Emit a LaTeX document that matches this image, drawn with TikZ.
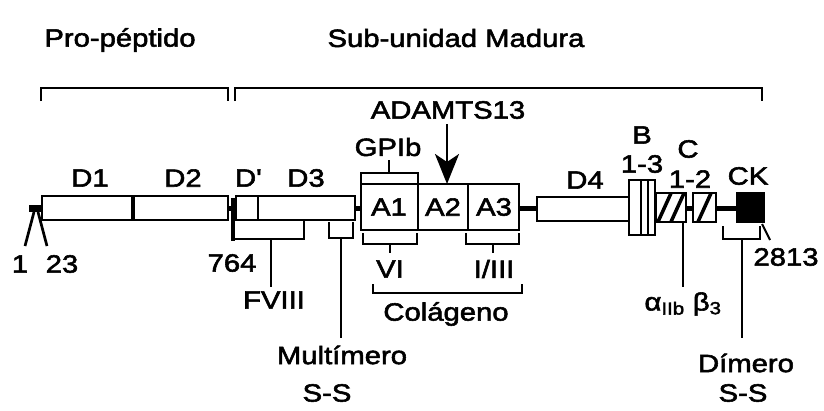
\documentclass[tikz,border=0pt]{standalone}
\usepackage{fontspec}
\setmainfont{Liberation Sans}[FakeStretch=1.17, FakeBold=2.2]
\usetikzlibrary{arrows.meta}
\begin{document}
\begin{tikzpicture}[x=1pt,y=-1pt,
  ln/.style={line width=2.7pt},
  box/.style={line width=2.7pt},
  bar/.style={line width=5pt},
  lbl/.style={font=\fontsize{25}{28}\selectfont, inner sep=0pt}]
\useasboundingbox (0,0) rectangle (824,410);
% top labels and brackets
\node[lbl] (pro) at (120,40) {Pro-péptido};
\node[lbl] (sub) at (456,38) {Sub-unidad Madura};
\draw[ln] (41,101) -- (41,88) -- (228,88) -- (228,101);
\draw[ln] (235,101) -- (235,88) -- (762,88) -- (762,101);
% signal peptide
\coordinate (s0) at (29,208); \coordinate (s1) at (42,208);
\draw[line width=7pt] (s0) -- (s1);
\coordinate (l0) at (34,212); \coordinate (l1) at (25,246);
\coordinate (r0) at (38,212); \coordinate (r1) at (47,246);
\draw[ln] (l0) -- (l1);
\draw[ln] (r0) -- (r1);
\node[lbl] (n1) at (20,264) {1};
\node[lbl] (n23) at (62,264) {23};
% D1 D2
\draw[box] (42,196) rectangle (228,220);
\draw[line width=4pt] (133,196) -- (133,220);
\node[lbl] (d1) at (90,178) {D1};
\node[lbl] (d2) at (183,178) {D2};
\draw[bar] (228,208) -- (236,208);
% 764
\draw[line width=4pt] (233,198) -- (233,241);
\node[lbl] (n764) at (232,263) {764};
% D' D3
\draw[box] (236,196) rectangle (355,220);
\draw[ln] (258,196) -- (258,220);
\node[lbl] (dp) at (248,178) {D\textquotesingle};
\node[lbl] (d3) at (306,178) {D3};
% FVIII
\draw[ln] (233,239) -- (304,239) -- (304,220);
\coordinate (fv0) at (271,239); \coordinate (fv1) at (271,287);
\draw[ln] (fv0) -- (fv1);
\node[lbl] (fviii) at (274,300) {FVIII};
% Multimero
\draw[ln] (329,222) -- (329,238) -- (353,238) -- (353,222);
\coordinate (mu0) at (341,238); \coordinate (mu1) at (341,338);
\draw[ln] (mu0) -- (mu1);
\node[lbl] (mult) at (342,355) {Multímero};
\node[lbl] (ss1) at (327,393) {S-S};
% A domains
\draw[bar] (355,208) -- (361,208);
\draw[box] (361,184) rectangle (519,230);
\draw[box] (418,184) -- (418,230);
\draw[box] (468,184) -- (468,230);
\node[lbl] (a1) at (389,207) {A1};
\node[lbl] (a2) at (443,207) {A2};
\node[lbl] (a3) at (494,207) {A3};
% GPIb
\draw[ln] (361,184) -- (361,173) -- (418,173) -- (418,184);
\draw[ln] (389,173) -- (389,160);
\node[lbl] (gp) at (388,147) {GPIb};
% ADAMTS13
\node[lbl] (adam) at (448,110) {ADAMTS13};
\coordinate (ar0) at (447,124); \coordinate (ar1) at (447,184);
\draw[ln, -{Stealth[length=30pt,width=24pt,inset=8pt]}] (ar0) -- (ar1);
% VI, I/III, collagen
\draw[ln] (363,233) -- (363,244) -- (417,244) -- (417,233);
\draw[ln] (390,244) -- (390,253);
\draw[ln] (466,233) -- (466,244) -- (519,244) -- (519,233);
\draw[ln] (493,244) -- (493,253);
\node[lbl] (vi) at (390,269) {VI};
\node[lbl] (i3) at (494,269) {I/III};
\draw[ln] (373,284) -- (373,293) -- (522,293) -- (522,284);
\node[lbl] (col) at (446,314) {Colágeno};
% D4
\draw[bar] (519,208) -- (537,208);
\draw[box] (537,197) rectangle (629,221);
\node[lbl] (d4) at (585,180) {D4};
% B
\draw[box] (629,180) rectangle (655,235);
\draw[line width=2pt] (641,180) -- (641,235);
\draw[line width=2pt] (648,180) -- (648,235);
\node[lbl] (b) at (642,135) {B};
\node[lbl] (b13) at (642,164) {1-3};
% C1, C2
\begin{scope}
\clip (656,193) rectangle (686,222);
\foreach \s in {0,13} \draw[line width=3.5pt] (\s+657,224) -- (\s+672,191);
\end{scope}
\draw[box] (656,193) rectangle (686,222);
\draw[bar] (686,208) -- (693,208);
\begin{scope}
\clip (693,193) rectangle (716,222);
\draw[line width=3.5pt] (697,224) -- (712,191);
\end{scope}
\draw[box] (693,193) rectangle (716,222);
\node[lbl] (c) at (688,149) {C};
\node[lbl] (c12) at (690,179) {1-2};
% CK
\draw[bar] (716,208) -- (737,208);
\draw[box, fill=black] (737,193) rectangle (764,222);
\node[lbl] (ck) at (748,176) {CK};
% alpha beta
\coordinate (ab0) at (683,222); \coordinate (ab1) at (683,287);
\draw[ln] (ab0) -- (ab1);
\node[lbl] (ab) at (683,304) {α\textsubscript{IIb} β\textsubscript{3}};
% dimero
\draw[ln] (723,226) -- (723,239) -- (760,239) -- (760,226);
\coordinate (di0) at (742,239); \coordinate (di1) at (742,338);
\draw[ln] (di0) -- (di1);
\node[lbl] (dim) at (746,363) {Dímero};
\node[lbl] (ss2) at (743,393) {S-S};
% 2813
\coordinate (e0) at (762,224); \coordinate (e1) at (770,240);
\draw[line width=2pt] (e0) -- (e1);
\node[lbl] (n2813) at (786,257) {2813};
\end{tikzpicture}
\end{document}
